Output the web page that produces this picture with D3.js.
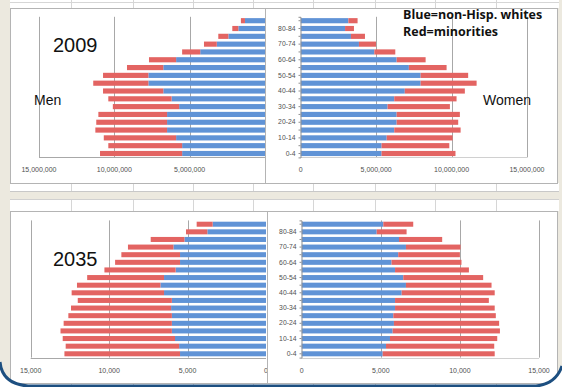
<!DOCTYPE html>
<html>
<head>
<meta charset="utf-8">
<script src="https://cdn.jsdelivr.net/npm/d3@7"></script>
<style>
  html, body { margin: 0; padding: 0; background: #ece9df; }
  svg { display: block; }
</style>
</head>
<body>
<div id="container"></div>
<script>
// ==================== data ==================== //
// age groups, bottom (0-4) to top (85+); values in thousands
const ages = ["0-4", "5-9", "10-14", "15-19", "20-24", "25-29", "30-34", "35-39", "40-44",
  "45-49", "50-54", "55-59", "60-64", "65-69", "70-74", "75-79", "80-84", "85+"];

const men2009White = [5500, 5500, 5900, 6500, 6500, 6500, 5700, 6200, 6750, 7740, 7740, 6750, 5900, 4300, 3200, 2430, 1770, 1330];
const men2009Minor = [5450, 4900, 4800, 4760, 4700, 4560, 4400, 4200, 4000, 3660, 3010, 2410, 1800, 1200, 850, 670, 400, 270];
const women2009White = [5360, 5360, 5700, 6200, 6360, 6360, 5760, 6200, 6900, 7950, 7950, 7170, 6360, 4880, 3860, 3330, 2940, 3160];
const women2009Minor = [4900, 4490, 4370, 4400, 4080, 4190, 4130, 4130, 3980, 3710, 3150, 2500, 1920, 1390, 1130, 930, 590, 610];

const men2035White = [5480, 5540, 5800, 6000, 6000, 6000, 6050, 6000, 6500, 6730, 6500, 5760, 5480, 5480, 5900, 5200, 3740, 3400];
const men2035Minor = [7370, 7230, 7160, 7100, 6900, 6600, 6380, 6000, 5890, 5320, 4900, 4540, 4140, 3740, 2900, 2150, 1360, 1020];
const women2035White = [5120, 5330, 5580, 5750, 5830, 5790, 5900, 5900, 6320, 6590, 6420, 5900, 5680, 6100, 6590, 6150, 4740, 5160];
const women2035Minor = [7080, 6840, 6780, 6780, 6650, 6480, 6300, 5930, 5880, 5410, 5050, 4670, 4420, 3900, 3450, 2730, 1890, 1890];

const ticks2009 = [0, 5000, 10000, 15000];   // shown as persons
const ticks2035 = [0, 5000, 10000, 15000];   // shown in thousands
const ageLabels = ["0-4", "10-14", "20-24", "30-34", "40-44", "50-54", "60-64", "70-74", "80-84"];

// ==================== drawing ==================== //
const W = 562, H = 387;
const blue = "#6093d6", red = "#e36462";
const gridColor = "#a8a8a8", frameColor = "#b4b4b4", textColor = "#505050";
const smallFont = "Liberation Sans, Arial, sans-serif";

const svg = d3.select("#container").append("svg")
  .attr("width", W).attr("height", H);

svg.append("rect").attr("width", W).attr("height", H).attr("fill", "#ece9df");

// spreadsheet screenshots behind the charts
const sheetCols = [71, 133, 193, 253, 313, 375, 435, 496];
function sheetStrip(y0, y1) {
  svg.append("rect").attr("x", 10).attr("y", y0).attr("width", 549).attr("height", y1 - y0).attr("fill", "#fff");
  sheetCols.forEach(x => {
    svg.append("line").attr("x1", x + 0.5).attr("x2", x + 0.5).attr("y1", y0).attr("y2", y1)
      .attr("stroke", "#d6d6d6");
  });
}
sheetStrip(0, 8);
svg.append("line").attr("x1", 10).attr("x2", 559).attr("y1", 2.5).attr("y2", 2.5).attr("stroke", "#d6d6d6");
sheetStrip(183, 192);
svg.append("line").attr("x1", 10).attr("x2", 559).attr("y1", 191.5).attr("y2", 191.5).attr("stroke", "#c8c8c8");
sheetStrip(199, 211);
svg.append("line").attr("x1", 10).attr("x2", 559).attr("y1", 199.5).attr("y2", 199.5).attr("stroke", "#d0d0d0");
sheetStrip(383, 387);

function stackRows(white, minor) {
  const rows = ages.map((a, i) => ({ age: a, white: white[i], minor: minor[i] }));
  return d3.stack().keys(["white", "minor"])(rows);
}

function drawPyramid(p) {
  const y = d3.scaleBand()
    .domain(ages.slice().reverse())
    .range([p.top, p.bottom])
    .paddingInner(0.34).paddingOuter(0.17);
  const xL = d3.scaleLinear().domain([0, 15000]).range([p.leftZero, p.leftMax]);
  const xR = d3.scaleLinear().domain([0, 15000]).range([p.rightZero, p.rightMax]);
  const colors = { white: blue, minor: red };

  // ---- left chart (men)
  const gL = svg.append("g");
  gL.append("rect").attr("x", p.x0 + 0.5).attr("y", p.y0 + 0.5)
    .attr("width", p.divider - p.x0).attr("height", p.y1 - p.y0)
    .attr("fill", "#fff").attr("stroke", frameColor);
  p.ticks.filter(t => t > 0).forEach(t => {
    gL.append("line").attr("x1", Math.round(xL(t)) + 0.5).attr("x2", Math.round(xL(t)) + 0.5)
      .attr("y1", p.top).attr("y2", p.bottom).attr("stroke", gridColor);
  });
  gL.append("line").attr("x1", xL(15000)).attr("x2", xL(0))
    .attr("y1", Math.round(p.bottom) + 0.5).attr("y2", Math.round(p.bottom) + 0.5).attr("stroke", gridColor);

  stackRows(p.menWhite, p.menMinor).forEach(layer => {
    gL.selectAll(null).data(layer).join("rect")
      .attr("x", d => xL(d[1]))
      .attr("width", d => xL(d[0]) - xL(d[1]))
      .attr("y", d => y(d.data.age))
      .attr("height", y.bandwidth())
      .attr("fill", colors[layer.key]);
  });

  gL.selectAll(null).data(p.ticks.filter(t => t > 0 || p.showLeftZero)).join("text")
    .attr("x", d => xL(d)).attr("y", p.labelY)
    .attr("text-anchor", "middle")
    .attr("font-family", smallFont).attr("font-size", 7)
    .attr("fill", textColor)
    .text(p.fmt);

  // ---- right chart (women)
  const gR = svg.append("g");
  gR.append("rect").attr("x", p.divider + 0.5).attr("y", p.y0 + 0.5)
    .attr("width", p.x1 - p.divider).attr("height", p.y1 - p.y0)
    .attr("fill", "#fff").attr("stroke", frameColor);
  p.ticks.filter(t => t > 0).forEach(t => {
    gR.append("line").attr("x1", Math.round(xR(t)) + 0.5).attr("x2", Math.round(xR(t)) + 0.5)
      .attr("y1", p.top).attr("y2", p.bottom).attr("stroke", gridColor);
  });
  gR.append("line").attr("x1", xR(0)).attr("x2", xR(15000))
    .attr("y1", Math.round(p.bottom) + 0.5).attr("y2", Math.round(p.bottom) + 0.5).attr("stroke", "#d0d0d0");

  stackRows(p.womenWhite, p.womenMinor).forEach(layer => {
    gR.selectAll(null).data(layer).join("rect")
      .attr("x", d => xR(d[0]))
      .attr("width", d => xR(d[1]) - xR(d[0]))
      .attr("y", d => y(d.data.age))
      .attr("height", y.bandwidth())
      .attr("fill", colors[layer.key]);
  });

  const ax = gR.append("g")
    .attr("transform", `translate(${Math.round(xR(0)) - 0.5},0)`)
    .call(d3.axisLeft(y).tickSize(2).tickPadding(3)
      .tickFormat(d => ageLabels.includes(d) ? d : ""));
  ax.select(".domain").attr("stroke", "#909090");
  ax.selectAll(".tick line").attr("stroke", "#909090");
  ax.selectAll("text").attr("fill", textColor)
    .attr("font-family", smallFont).attr("font-size", 6.8);

  gR.selectAll(null).data(p.ticks).join("text")
    .attr("x", d => xR(d)).attr("y", p.labelY)
    .attr("text-anchor", "middle")
    .attr("font-family", smallFont).attr("font-size", 7)
    .attr("fill", textColor)
    .text(p.fmt);

  // ---- annotations
  svg.append("text").attr("x", 53).attr("y", p.yearY)
    .attr("font-family", "Liberation Sans, Arial, sans-serif").attr("font-size", 20)
    .attr("fill", "#111").text(p.year);
}

drawPyramid({
  x0: 10, x1: 557, y0: 8, y1: 183, divider: 265,
  top: 16.8, bottom: 157.4,
  leftZero: 265, leftMax: 39, rightZero: 300.7, rightMax: 527,
  ticks: ticks2009, fmt: d => d3.format(",")(d * 1000), showLeftZero: false,
  labelY: 172, year: "2009", yearY: 52,
  menWhite: men2009White, menMinor: men2009Minor,
  womenWhite: women2009White, womenMinor: women2009Minor
});

drawPyramid({
  x0: 10, x1: 557, y0: 211, y1: 383, divider: 267,
  top: 220.4, bottom: 357.6,
  leftZero: 266, leftMax: 30.7, rightZero: 301.7, rightMax: 539,
  ticks: ticks2035, fmt: d => d3.format(",")(d), showLeftZero: true,
  labelY: 372.5, year: "2035", yearY: 266,
  menWhite: men2035White, menMinor: men2035Minor,
  womenWhite: women2035White, womenMinor: women2035Minor
});

// labels on the 2009 chart
svg.append("text").attr("x", 34).attr("y", 105)
  .attr("font-family", "Liberation Sans, Arial, sans-serif").attr("font-size", 14)
  .attr("fill", "#111").text("Men");
svg.append("text").attr("x", 483).attr("y", 105)
  .attr("font-family", "Liberation Sans, Arial, sans-serif").attr("font-size", 14)
  .attr("fill", "#111").text("Women");
svg.append("text").attr("x", 403).attr("y", 18.5)
  .attr("font-family", "Open Sans, sans-serif").attr("font-weight", "bold").attr("font-size", 12.5)
  .attr("fill", "#111").text("Blue=non-Hisp. whites");
svg.append("text").attr("x", 403).attr("y", 35.5)
  .attr("font-family", "Open Sans, sans-serif").attr("font-weight", "bold").attr("font-size", 12.5)
  .attr("fill", "#111").text("Red=minorities");

// slide border at the bottom
svg.append("path")
  .attr("d", "M0,387 L0,362 Q2,384 28,386 L536,386 Q556,384 562,366 L562,387 Z")
  .attr("fill", "#fff");
svg.append("path")
  .attr("d", "M0,362 Q2,384 28,386 L536,386 Q556,384 562,366")
  .attr("fill", "none").attr("stroke", "#1d4f80").attr("stroke-width", 3);
</script>
</body>
</html>
